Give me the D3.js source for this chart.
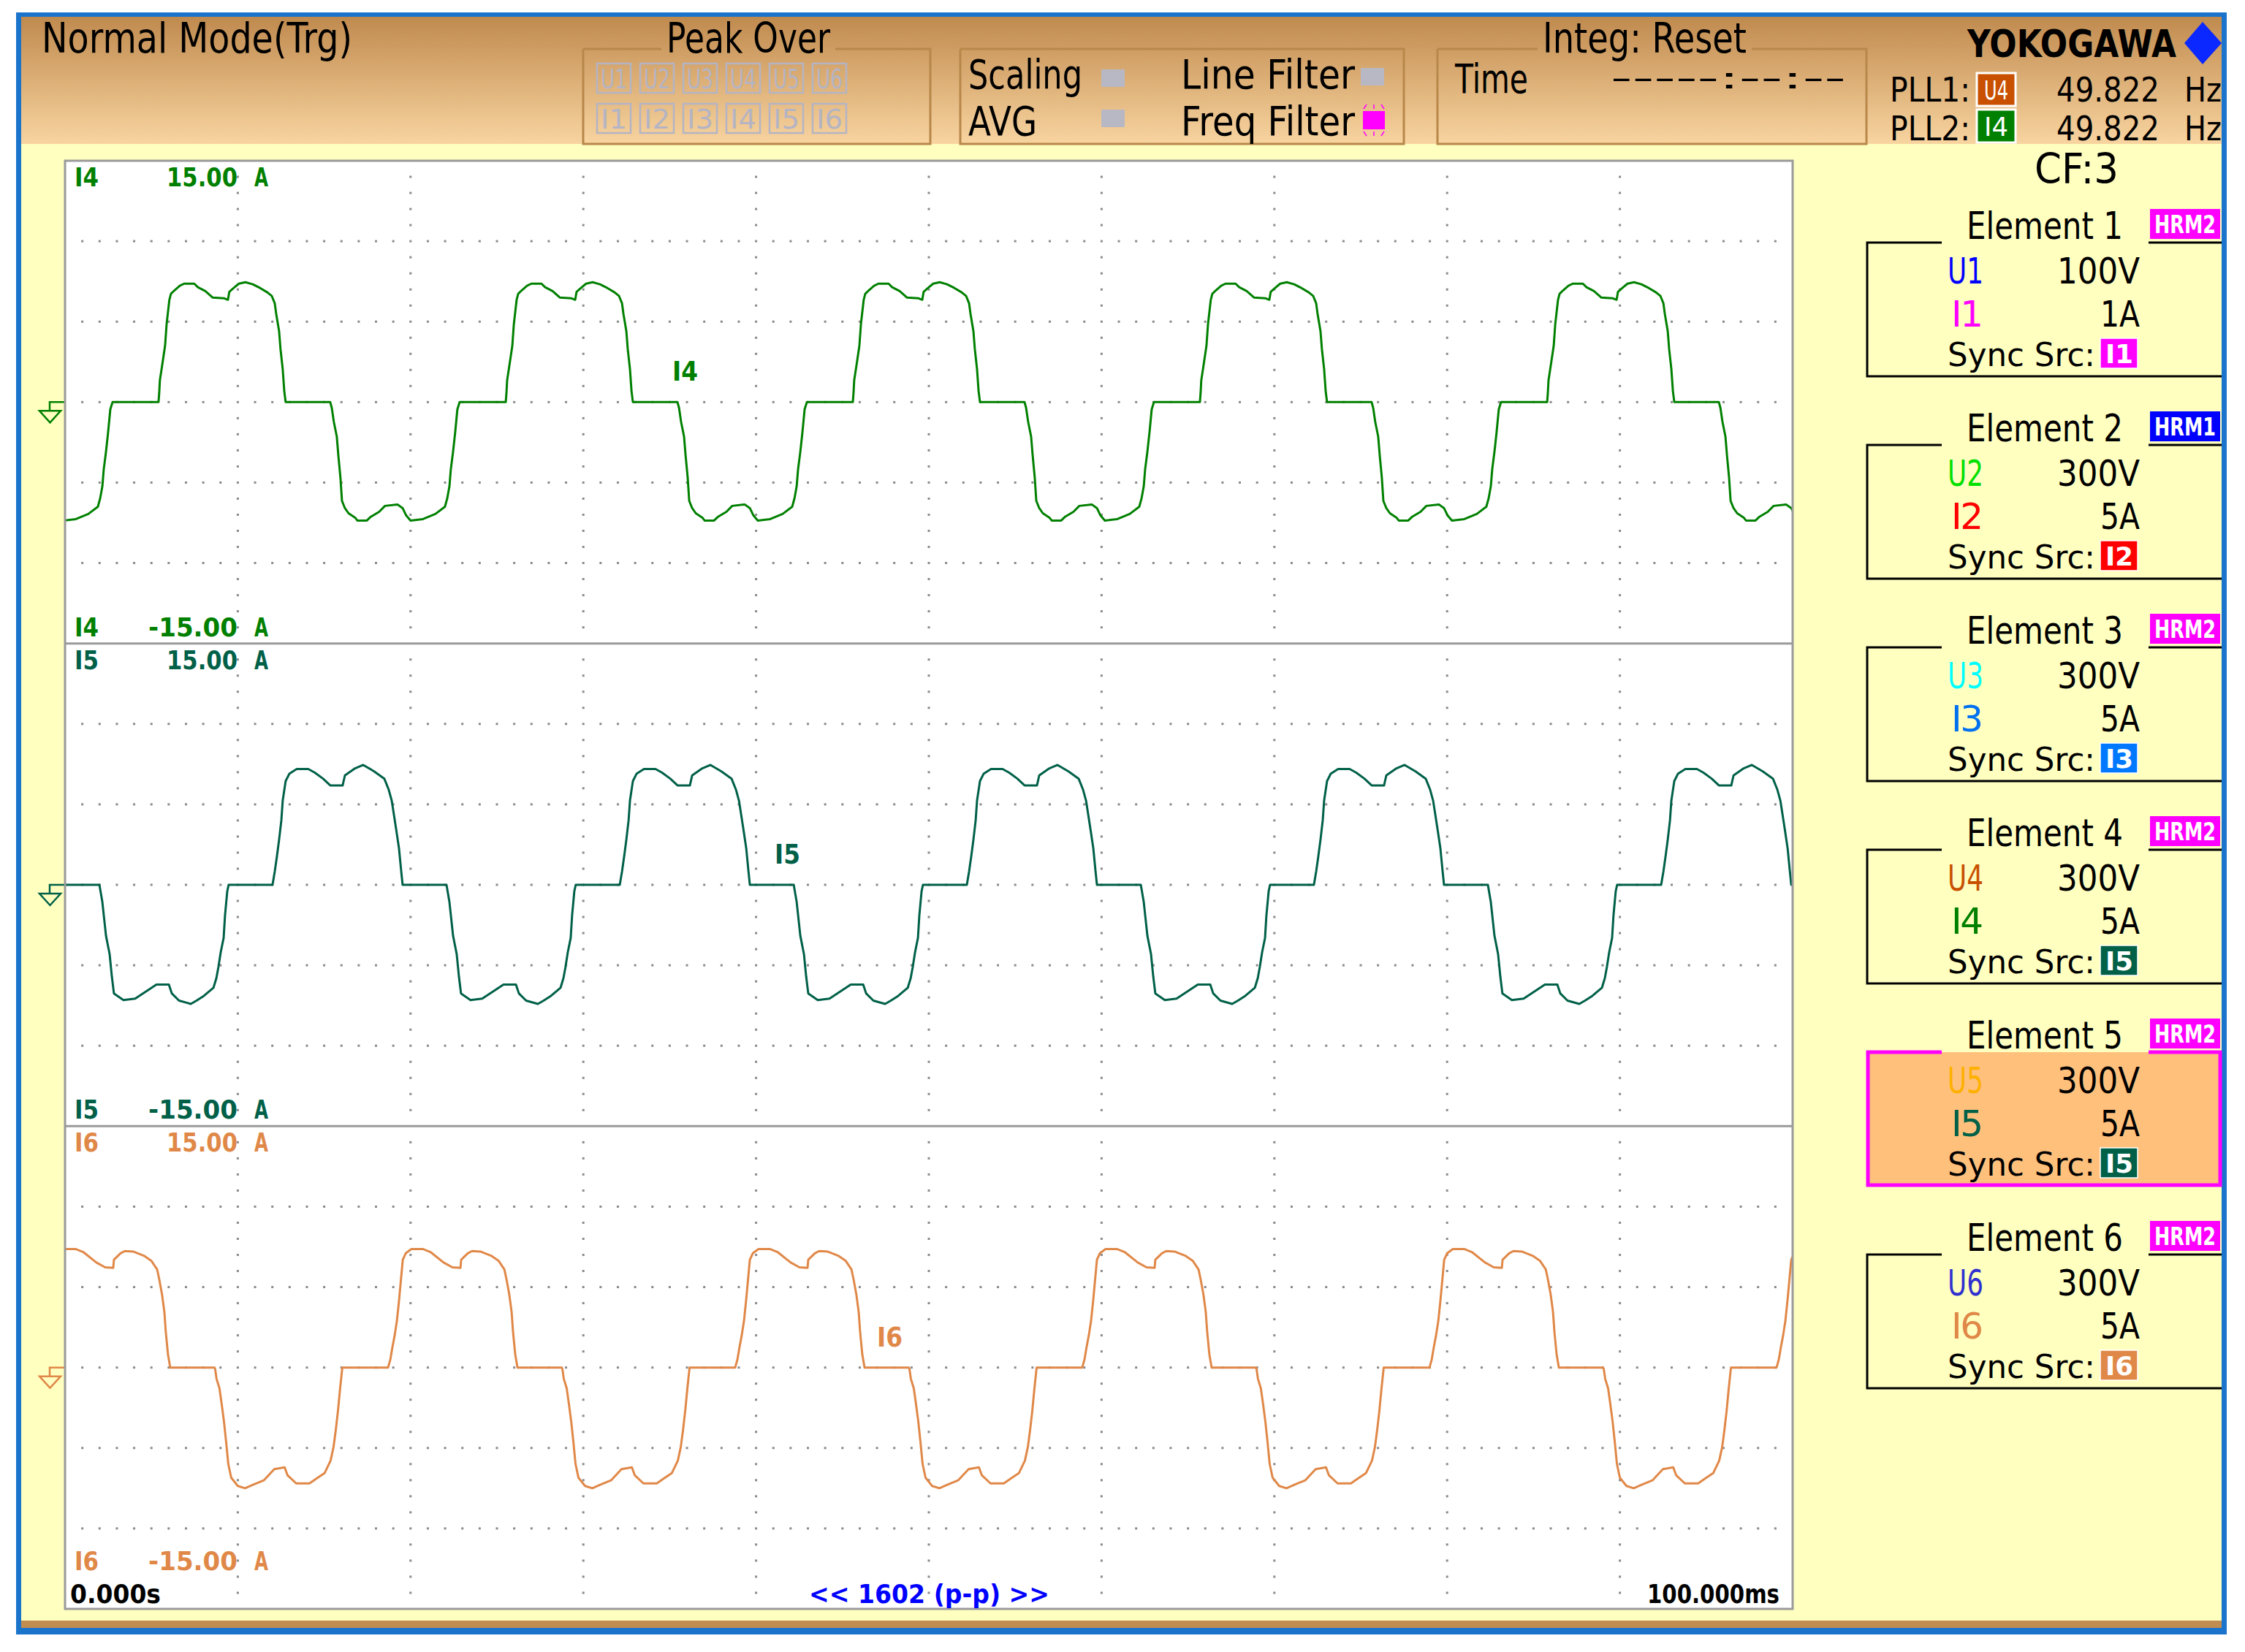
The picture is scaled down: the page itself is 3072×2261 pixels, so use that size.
<!DOCTYPE html>
<html>
<head>
<meta charset="utf-8">
<script src="https://cdn.jsdelivr.net/npm/d3@7"></script>
<style>
  body { margin: 0; background: #fff; }
  text { font-family: "DejaVu Sans", sans-serif; }
</style>
</head>
<body>
<svg id="chart"></svg>
<script>
// ---- values ----
const channels = ['I4', 'I5', 'I6'];
const channelColors = ['#008000', '#006048', '#e08848'];
const rangeTopLabel = '15.00';
const rangeBottomLabel = '-15.00';
const timeStart = '0.000s', timeEnd = '100.000ms', sampleInfo = '<< 1602 (p-p) >>';

// one cycle of each current, [ms after rising edge, A]
const cycleI4 = [
  [0.00, 0], [0.04, 0.55], [0.08, 1.36], [0.21, 2.27], [0.38, 3.50], [0.47, 4.86], [0.63, 6.36], [0.72, 6.73],
  [0.93, 6.95], [1.23, 7.23], [1.48, 7.36], [2.07, 7.36], [2.28, 7.14], [2.71, 6.90], [3.13, 6.50], [3.81, 6.45],
  [4.02, 6.36], [4.10, 6.86], [4.40, 7.14], [4.65, 7.36], [5.03, 7.45], [5.46, 7.32], [5.88, 7.09], [6.30, 6.82],
  [6.56, 6.59], [6.73, 6.14], [6.81, 5.50], [6.98, 4.41], [7.06, 3.32], [7.19, 2.05], [7.28, 0.68], [7.36, 0],
  [9.94, 0], [10.03, -0.36], [10.15, -1.23], [10.32, -2.14], [10.41, -3.32], [10.53, -4.68], [10.62, -6.14],
  [10.79, -6.59], [11.00, -6.91], [11.38, -7.18], [11.51, -7.36], [12.06, -7.36], [12.27, -7.14], [12.77, -6.82],
  [13.11, -6.45], [13.83, -6.36], [14.13, -6.59], [14.34, -7.05], [14.59, -7.36], [15.31, -7.27], [16.03, -6.95],
  [16.58, -6.50], [16.71, -6.00], [16.84, -5.23], [16.92, -4.18], [17.05, -3.09], [17.17, -1.91], [17.30, -0.45],
  [17.43, 0]
];
const cycleI5 = [
  [0.00, 0], [0.13, 0.83], [0.25, 1.74], [0.38, 2.80], [0.51, 4.00], [0.59, 5.23], [0.76, 6.45], [0.97, 6.90],
  [1.40, 7.20], [2.07, 7.20], [2.45, 6.97], [2.92, 6.60], [3.34, 6.18], [4.06, 6.18], [4.19, 6.80], [4.78, 7.24],
  [5.25, 7.45], [5.88, 7.05], [6.47, 6.60], [6.73, 5.90], [6.90, 5.23], [7.02, 4.40], [7.15, 3.50], [7.32, 2.27],
  [7.45, 0.83], [7.53, 0],
  [10.07, 0], [10.24, -1.07], [10.45, -3.16], [10.66, -4.30], [10.79, -5.70], [10.91, -6.75], [11.46, -7.16],
  [12.14, -7.07], [12.94, -6.50], [13.37, -6.20], [14.09, -6.20], [14.26, -6.75], [14.68, -7.20], [15.36, -7.40],
  [15.69, -7.20], [16.12, -6.90], [16.67, -6.40], [16.84, -5.80], [16.96, -5.10], [17.09, -4.20], [17.26, -3.30],
  [17.34, -1.90], [17.47, -0.40], [17.55, 0]
];
const cycleI6 = [
  [0.00, 0], [0.13, 0.50], [0.25, 1.27], [0.38, 2.00], [0.51, 2.90], [0.63, 4.14], [0.76, 5.65], [0.85, 6.70],
  [1.02, 7.10], [1.35, 7.36], [2.03, 7.36], [2.45, 7.18], [3.21, 6.53], [3.72, 6.23], [4.19, 6.20], [4.23, 6.70],
  [4.61, 7.10], [4.86, 7.24], [5.37, 7.20], [5.96, 6.95], [6.39, 6.64], [6.73, 6.10], [6.85, 5.50], [7.02, 4.50],
  [7.15, 3.45], [7.23, 2.24], [7.36, 0.80], [7.49, 0],
  [10.05, 0], [10.09, -0.10], [10.17, -0.70], [10.34, -1.30], [10.47, -2.30], [10.60, -3.36], [10.72, -4.57],
  [10.85, -6.00], [11.02, -6.85], [11.40, -7.36], [11.82, -7.50], [12.25, -7.30], [12.92, -7.00], [13.51, -6.32],
  [14.11, -6.20], [14.28, -6.70], [14.78, -7.20], [15.55, -7.20], [15.93, -6.92], [16.43, -6.55], [16.77, -5.79],
  [16.94, -4.95], [17.07, -3.90], [17.20, -2.68], [17.32, -1.32], [17.45, 0]
];
// rising edge times of each cycle on screen (ms)
const startsI4 = [-14.68, 5.41, 25.51, 45.60, 65.69, 85.79];
const startsI5 = [-8.08, 12.01, 32.11, 52.20, 72.29, 92.39];
const startsI6 = [-1.40, 18.70, 38.79, 58.88, 78.98, 99.07];

// right hand element list
const elementNames = ['Element 1', 'Element 2', 'Element 3', 'Element 4', 'Element 5', 'Element 6'];
const hrmModes = ['HRM2', 'HRM1', 'HRM2', 'HRM2', 'HRM2', 'HRM2'];
const voltageNames = ['U1', 'U2', 'U3', 'U4', 'U5', 'U6'];
const voltageRanges = ['100V', '300V', '300V', '300V', '300V', '300V'];
const currentNames = ['I1', 'I2', 'I3', 'I4', 'I5', 'I6'];
const currentRanges = ['1A', '5A', '5A', '5A', '5A', '5A'];
const syncSources = ['I1', 'I2', 'I3', 'I5', 'I5', 'I6'];
const selectedElement = 4;

const uColors = ['#0000ff', '#00e000', '#00ffff', '#c85000', '#ffb000', '#3030d0'];
const iColors = ['#ff00ff', '#ff0000', '#0070f0', '#008000', '#006048', '#e08848'];
const syncColors = { I1: '#ff00ff', I2: '#ff0000', I3: '#0078ff', I5: '#006048', I6: '#e08848' };
const hrmColors = { HRM1: '#0000ff', HRM2: '#ff00ff' };

const pllFreq = ['49.822', '49.822'];

// ---- drawing ----
const W = 3072, H = 2261;
const svg = d3.select('#chart').attr('width', W).attr('height', H);

function label(parent, str, x, y, o) {
  const t = parent.append('text')
    .attr('x', x).attr('y', y)
    .attr('font-size', o.size)
    .attr('fill', o.color || '#000')
    .text(str);
  if (o.width) t.attr('textLength', o.width).attr('lengthAdjust', o.adjust || 'spacingAndGlyphs');
  if (o.weight) t.attr('font-weight', o.weight);
  if (o.family) t.attr('font-family', o.family);
  return t;
}

// frame
const defs = svg.append('defs');
const grad = defs.append('linearGradient').attr('id', 'hdr').attr('x1', 0).attr('y1', 0).attr('x2', 0).attr('y2', 1);
grad.append('stop').attr('offset', '0%').attr('stop-color', '#c08a4e');
grad.append('stop').attr('offset', '100%').attr('stop-color', '#f8d4a0');

svg.append('rect').attr('x', 22).attr('y', 17).attr('width', 3025).attr('height', 2220).attr('fill', '#1a74cc');
svg.append('rect').attr('x', 29).attr('y', 23).attr('width', 3011).attr('height', 174).attr('fill', 'url(#hdr)');
svg.append('rect').attr('x', 29).attr('y', 197).attr('width', 3011).attr('height', 2021).attr('fill', '#ffffc0');
svg.append('rect').attr('x', 29).attr('y', 2218).attr('width', 3011).attr('height', 10).attr('fill', '#c08c50');

// header
const hdr = svg.append('g');
const hf = 'Liberation Sans, Arial, sans-serif';
const boxStroke = '#b8874a';

// header boxes (with gaps where a title crosses the top edge)
const hdrBoxes = [
  { x0: 798, x1: 1273, gap: [905, 1143] },
  { x0: 1314, x1: 1921, gap: null },
  { x0: 1967, x1: 2554, gap: [2104, 2397] }
];
hdrBoxes.forEach(b => {
  let d = `M${b.x0},67 V197 H${b.x1} V67`;
  if (b.gap) d += ` H${b.gap[1]} M${b.gap[0]},67 H${b.x0}`;
  else d += ` H${b.x0}`;
  hdr.append('path').attr('d', d).attr('fill', 'none').attr('stroke', boxStroke).attr('stroke-width', 3);
});

label(hdr, 'Normal  Mode(Trg)', 57, 72, { size: 57, width: 425, family: hf });
label(hdr, 'Peak Over', 912, 72, { size: 57, width: 224, family: hf });
label(hdr, 'Integ: Reset', 2111, 72, { size: 57, width: 279, family: hf });
label(hdr, 'Scaling', 1325, 121, { size: 55, width: 156, family: hf });
label(hdr, 'Line  Filter', 1616, 121, { size: 55, width: 238, family: hf });
label(hdr, 'AVG', 1325, 185, { size: 55, width: 94, family: hf });
label(hdr, 'Freq Filter', 1616, 185, { size: 55, width: 238, family: hf });
label(hdr, 'Time', 1991, 127, { size: 55, width: 100, family: hf });
label(hdr, '-----:--:--', 2204, 121, { size: 40, width: 322, family: hf });

// peak over indicators
const peakGray = '#b4b4c4';
['U', 'I'].forEach((p, r) => {
  d3.range(1, 7).forEach(k => {
    const bx = 817 + 59 * (k - 1), by = r === 0 ? 87 : 142;
    hdr.append('rect').attr('x', bx).attr('y', by).attr('width', 46).attr('height', 40)
      .attr('fill', 'none').attr('stroke', peakGray).attr('stroke-width', 2.5);
    label(hdr, p + k, bx + 5, by + 34, { size: 38, width: 36, color: peakGray, family: hf });
  });
});

// status squares
[[1507, 95], [1507, 150], [1862, 93]].forEach(([x, y]) => {
  hdr.append('rect').attr('x', x).attr('y', y).attr('width', 32).attr('height', 24).attr('fill', '#b8b8c4');
});
hdr.append('rect').attr('x', 1865).attr('y', 152).attr('width', 30).attr('height', 25).attr('fill', '#ff00ff');
[[1870, 1866], [1880, 1880], [1890, 1894]].forEach(([a, b]) => {
  hdr.append('line').attr('x1', a).attr('y1', 143).attr('x2', b).attr('y2', 149).attr('stroke', '#ff00ff').attr('stroke-width', 1.5);
  hdr.append('line').attr('x1', a).attr('y1', 186).attr('x2', b).attr('y2', 180).attr('stroke', '#ff00ff').attr('stroke-width', 1.5);
});

// logo and PLL
label(hdr, 'YOKOGAWA', 2692, 78, { size: 52, width: 286, weight: 'bold' });
hdr.append('path').attr('d', 'M3014,30 L3040,59 L3014,88 L2989,59 Z').attr('fill', '#0a28ff');
[['PLL1:', 'U4', '#c85000', 100, 139], ['PLL2:', 'I4', '#008000', 150, 192]].forEach(([name, src, col, by, base], i) => {
  label(hdr, name, 2586, base, { size: 47, width: 110, family: hf });
  hdr.append('rect').attr('x', 2705).attr('y', by).attr('width', 53).attr('height', 45)
    .attr('fill', col).attr('stroke', '#fff').attr('stroke-width', 3);
  label(hdr, src, 2715, by + 36, { size: 36, width: 33, color: '#fff', family: hf });
  label(hdr, pllFreq[i], 2814, base, { size: 47, width: 141, family: hf });
  label(hdr, 'Hz', 2989, base, { size: 47, width: 51, family: hf });
});

// ---- plot ----
const plotL = 89, plotR = 2453, plotT = 220, plotB = 2202;
const panelH = (plotB - plotT) / 3;
const x = d3.scaleLinear().domain([0, 100]).range([plotL, plotR]);

defs.append('clipPath').attr('id', 'plotClip')
  .append('rect').attr('x', plotL).attr('y', plotT).attr('width', plotR - plotL).attr('height', plotB - plotT);

svg.append('rect').attr('x', plotL).attr('y', plotT).attr('width', plotR - plotL).attr('height', plotB - plotT)
  .attr('fill', '#fff');

const cycles = [cycleI4, cycleI5, cycleI6];
const starts = [startsI4, startsI5, startsI6];
const gridColor = '#8a8a8a';
const dotG = svg.append('g').attr('fill', gridColor);
const traceG = svg.append('g').attr('clip-path', 'url(#plotClip)');

channels.forEach((ch, p) => {
  const top = plotT + p * panelH;
  const y = d3.scaleLinear().domain([-15, 15]).range([top + panelH, top]);
  const col = channelColors[p];

  // dotted grid: vertical every 10 ms with a dot per amp, horizontal every 5 A with a dot per ms
  d3.range(10, 100, 10).forEach(t => {
    d3.range(-14, 15).forEach(a => {
      dotG.append('rect').attr('x', x(t) - 1.5).attr('y', y(a) - 1.5).attr('width', 3).attr('height', 3);
    });
  });
  [-10, -5, 0, 5, 10].forEach(a => {
    d3.range(1, 100).forEach(t => {
      if (t % 10 === 0) return;
      dotG.append('rect').attr('x', x(t) - 1.5).attr('y', y(a) - 1.5).attr('width', 3).attr('height', 3);
    });
  });

  // waveform
  const pts = [];
  starts[p].forEach(s => cycles[p].forEach(([t, a]) => pts.push([s + t, a])));
  const line = d3.line().x(d => x(d[0])).y(d => y(d[1]));
  traceG.append('path').datum(pts).attr('d', line)
    .attr('fill', 'none').attr('stroke', col).attr('stroke-width', 3).attr('stroke-linejoin', 'round');

  // ground marker
  const z = y(0);
  svg.append('path')
    .attr('d', `M${plotL},${z} H68 V${z + 12} M54,${z + 12} H83 L68.5,${z + 28} Z`)
    .attr('fill', 'none').attr('stroke', col).attr('stroke-width', 2.5);

  // range labels
  const topBase = top + 35;
  const botBase = p === 2 ? 2149 : top + panelH - 10;
  [[rangeTopLabel, topBase, 228, 97], [rangeBottomLabel, botBase, 203, 122]].forEach(([v, b, vx, vw]) => {
    label(svg, ch, 102, b, { size: 36, width: 33, color: col, weight: 'bold' });
    label(svg, v, vx, b, { size: 36, width: vw, color: col, weight: 'bold' });
    label(svg, 'A', 348, b, { size: 36, width: 19, color: col, weight: 'bold' });
  });

  // trace name
  label(svg, ch, 920 + 140 * p, z - 29, { size: 38, width: 35, color: col, weight: 'bold' });
});

// plot border and panel dividers
svg.append('rect').attr('x', plotL).attr('y', plotT).attr('width', plotR - plotL).attr('height', plotB - plotT)
  .attr('fill', 'none').attr('stroke', '#9a9a9a').attr('stroke-width', 3);
[1, 2].forEach(k => {
  svg.append('line').attr('x1', plotL).attr('x2', plotR)
    .attr('y1', plotT + k * panelH).attr('y2', plotT + k * panelH)
    .attr('stroke', '#9a9a9a').attr('stroke-width', 3);
});

label(svg, timeStart, 96, 2194, { size: 36, width: 124, weight: 'bold' });
label(svg, sampleInfo, 1107, 2194, { size: 36, width: 329, color: '#0000ff', weight: 'bold' });
label(svg, timeEnd, 2254, 2194, { size: 36, width: 181, weight: 'bold' });

// ---- element list ----
const side = svg.append('g');
label(side, 'CF:3', 2784, 251, { size: 57, width: 115 });

elementNames.forEach((name, i) => {
  const off = 277 * i;
  const sel = i === selectedElement;
  if (sel) {
    side.append('rect').attr('x', 2554).attr('y', 332 + off).attr('width', 486).attr('height', 183)
      .attr('fill', '#ffc07c');
    side.append('path')
      .attr('d', `M2657,${332 + off} H2556 V${514 + off} H3038 V${332 + off} H2940`)
      .attr('fill', 'none').attr('stroke', '#ff00ff').attr('stroke-width', 5);
  } else {
    side.append('path')
      .attr('d', `M2657,${332 + off} H2555 V${515 + off} H3040 M2940,${332 + off} H3040`)
      .attr('fill', 'none').attr('stroke', '#000').attr('stroke-width', 3);
  }
  label(side, name, 2691, 327 + off, { size: 52, width: 214 });

  side.append('rect').attr('x', 2942).attr('y', 286 + off).attr('width', 96).attr('height', 41)
    .attr('fill', hrmColors[hrmModes[i]]);
  label(side, hrmModes[i], 2948, 319 + off, { size: 34, width: 84, color: '#fff', weight: 'bold' });

  label(side, voltageNames[i], 2665, 388 + off, { size: 50, width: 49, color: uColors[i] });
  label(side, voltageRanges[i], 2815, 388 + off, { size: 50, width: 113 });
  label(side, currentNames[i], 2670, 447 + off, { size: 50, width: 44, color: iColors[i], adjust: 'spacing' });
  label(side, currentRanges[i], 2874, 447 + off, { size: 50, width: 54 });

  label(side, 'Sync  Src:', 2665, 501 + off, { size: 44, width: 202 });
  side.append('rect').attr('x', 2874).attr('y', 463 + off).attr('width', 51).attr('height', 41)
    .attr('fill', syncColors[syncSources[i]]).attr('stroke', '#fff').attr('stroke-width', 1.5);
  label(side, syncSources[i], 2881, 497 + off, { size: 35, width: 38, color: '#fff', weight: 'bold', family: 'DejaVu Serif, serif' });
});
</script>
</body>
</html>
